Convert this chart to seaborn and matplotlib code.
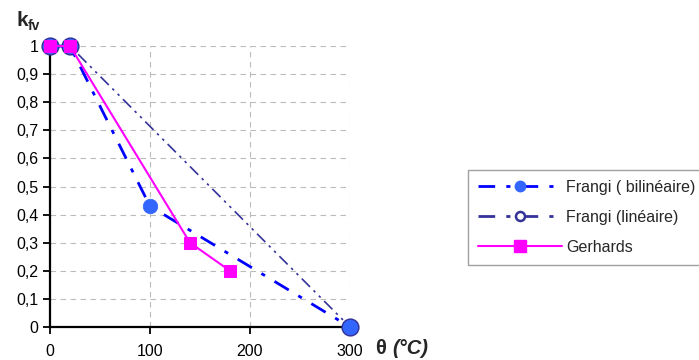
import matplotlib
matplotlib.use("Agg")
import matplotlib.pyplot as plt
import seaborn as sns
import pandas as pd
from matplotlib.lines import Line2D

sns.set_theme(style="white")
plt.rcParams['font.family'] = ['Liberation Sans', 'DejaVu Sans']

theta_bil = [0, 20, 100, 300]
kfv_bil = [1, 1, 0.43, 0]
theta_lin = [0, 20, 300]
kfv_lin = [1, 1, 0]
theta_ger = [0, 20, 140, 180]
kfv_ger = [1, 1, 0.3, 0.2]
labels = ["Frangi ( bilinéaire)", "Frangi (linéaire)", "Gerhards"]
xticks = [0, 100, 200, 300]
yticks = [0, 0.1, 0.2, 0.3, 0.4, 0.5, 0.6, 0.7, 0.8, 0.9, 1]
yticklabels = ["0", "0,1", "0,2", "0,3", "0,4", "0,5", "0,6", "0,7", "0,8", "0,9", "1"]

fig = plt.figure(figsize=(6.99, 3.6), dpi=100)
ax = fig.add_axes([0.0715, 0.0917, 0.4292, 0.7803])

df_bil = pd.DataFrame({"t": theta_bil, "k": kfv_bil})
df_lin = pd.DataFrame({"t": theta_lin, "k": kfv_lin})
df_ger = pd.DataFrame({"t": theta_ger, "k": kfv_ger})

sns.lineplot(data=df_lin, x="t", y="k", ax=ax, color="#333399", lw=1.2,
             marker="o", markersize=11.5, markerfacecolor="white",
             markeredgecolor="#333399", markeredgewidth=1.6, clip_on=False, zorder=3)
ax.lines[-1].set_dashes([7, 3, 1.5, 3, 1.5, 3])
sns.lineplot(data=df_bil, x="t", y="k", ax=ax, color="#0000FF", lw=2,
             marker="o", markersize=10.5, markerfacecolor="#3366FF",
             markeredgecolor="#3366FF", markeredgewidth=0.5, clip_on=False, zorder=4)
ax.lines[-1].set_dashes([6, 4, 1.5, 4])
sns.lineplot(data=df_ger, x="t", y="k", ax=ax, color="#FF00FF", lw=1.5,
             marker="s", markersize=8, markerfacecolor="#FF00FF",
             markeredgecolor="#FF00FF", clip_on=False, zorder=5)

ax.set_xlim(0, 300)
ax.set_ylim(0, 1)
ax.set_xticks(xticks)
ax.set_xticklabels([str(x) for x in xticks], fontsize=11.5)
ax.set_yticks(yticks)
ax.set_yticklabels(yticklabels, fontsize=11.5)
ax.set_xlabel("")
ax.set_ylabel("")
ax.grid(True, color="#BBBBBB", linestyle=(0, (5, 4)), lw=0.8)
for s in ["top", "right"]:
    ax.spines[s].set_visible(False)
for s in ["left", "bottom"]:
    ax.spines[s].set_color("black")
    ax.spines[s].set_linewidth(1.6)
ax.tick_params(axis="both", direction="out", length=5, width=1.3, color="black",
               bottom=True, left=True, labelcolor="black")
ax.tick_params(axis="y", pad=3.5)
ax.tick_params(axis="x", pad=7)

fig.text(16 / 699, 1 - 26 / 360, "k", fontsize=15, fontweight="bold", va="baseline")
fig.text(28 / 699, 1 - 30 / 360, "fv", fontsize=10, fontweight="bold", va="baseline")
fig.text(375 / 699, 1 - 348 / 360, "θ", fontsize=14.5, fontweight="bold", va="center")
fig.text(392 / 699, 1 - 348 / 360, "(°C)", fontsize=14.5, fontweight="bold",
         style="italic", va="center")

handles = [
    Line2D([0], [0], color="#0000FF", lw=2, dashes=[6, 4, 1.5, 4], marker="o",
           markersize=7.5, markerfacecolor="#3366FF", markeredgecolor="#3366FF"),
    Line2D([0], [0], color="#333399", lw=2, dashes=[6, 4, 1.5, 4], marker="o",
           markersize=6.5, markerfacecolor="white", markeredgecolor="#333399", markeredgewidth=1.8),
    Line2D([0], [0], color="#FF00FF", lw=1.5, marker="s", markersize=8,
           markerfacecolor="#FF00FF", markeredgecolor="#FF00FF"),
]
leg = fig.legend(handles, labels, loc="upper left", bbox_to_anchor=(468 / 699, 1 - 170 / 360),
                 fontsize=11.5, frameon=True, fancybox=False, handlelength=5.3,
                 borderpad=0.6, labelspacing=0.95, handletextpad=0.25, borderaxespad=0)
leg.get_frame().set_edgecolor("#888888")
leg.get_frame().set_linewidth(1)

fig.savefig("out.png", dpi=100)
